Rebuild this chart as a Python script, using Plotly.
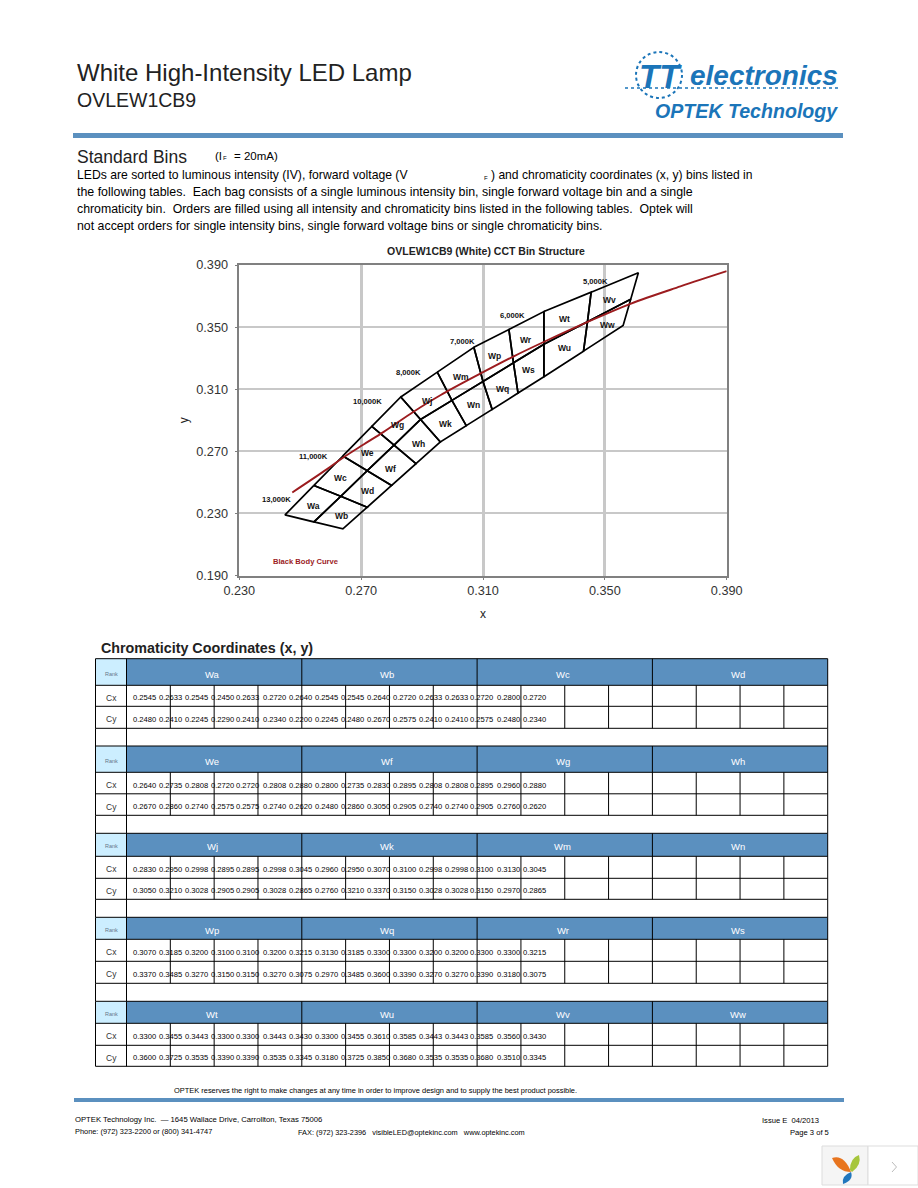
import plotly.graph_objects as go

W, H = 918, 1188
SANS = 'Liberation Sans'
BLUE = '#5b90bf'
LOGO = '#1b75b9'

# table rows, one list per section: four bins with four corners each
BIN_NAMES = [
	['Wa', 'Wb', 'Wc', 'Wd'],
	['We', 'Wf', 'Wg', 'Wh'],
	['Wj', 'Wk', 'Wm', 'Wn'],
	['Wp', 'Wq', 'Wr', 'Ws'],
	['Wt', 'Wu', 'Wv', 'Ww'],
]
CX_ROWS = [
	[0.2545, 0.2633, 0.2545, 0.2450, 0.2633, 0.2720, 0.2640, 0.2545, 0.2545, 0.2640, 0.2720, 0.2633, 0.2633, 0.2720, 0.2800, 0.2720],
	[0.2640, 0.2735, 0.2808, 0.2720, 0.2720, 0.2808, 0.2880, 0.2800, 0.2735, 0.2830, 0.2895, 0.2808, 0.2808, 0.2895, 0.2960, 0.2880],
	[0.2830, 0.2950, 0.2998, 0.2895, 0.2895, 0.2998, 0.3045, 0.2960, 0.2950, 0.3070, 0.3100, 0.2998, 0.2998, 0.3100, 0.3130, 0.3045],
	[0.3070, 0.3185, 0.3200, 0.3100, 0.3100, 0.3200, 0.3215, 0.3130, 0.3185, 0.3300, 0.3300, 0.3200, 0.3200, 0.3300, 0.3300, 0.3215],
	[0.3300, 0.3455, 0.3443, 0.3300, 0.3300, 0.3443, 0.3430, 0.3300, 0.3455, 0.3610, 0.3585, 0.3443, 0.3443, 0.3585, 0.3560, 0.3430],
]
CY_ROWS = [
	[0.2480, 0.2410, 0.2245, 0.2290, 0.2410, 0.2340, 0.2200, 0.2245, 0.2480, 0.2670, 0.2575, 0.2410, 0.2410, 0.2575, 0.2480, 0.2340],
	[0.2670, 0.2860, 0.2740, 0.2575, 0.2575, 0.2740, 0.2620, 0.2480, 0.2860, 0.3050, 0.2905, 0.2740, 0.2740, 0.2905, 0.2760, 0.2620],
	[0.3050, 0.3210, 0.3028, 0.2905, 0.2905, 0.3028, 0.2865, 0.2760, 0.3210, 0.3370, 0.3150, 0.3028, 0.3028, 0.3150, 0.2970, 0.2865],
	[0.3370, 0.3485, 0.3270, 0.3150, 0.3150, 0.3270, 0.3075, 0.2970, 0.3485, 0.3600, 0.3390, 0.3270, 0.3270, 0.3390, 0.3180, 0.3075],
	[0.3600, 0.3725, 0.3535, 0.3390, 0.3390, 0.3535, 0.3345, 0.3180, 0.3725, 0.3850, 0.3680, 0.3535, 0.3535, 0.3680, 0.3510, 0.3345],
]

BLACK_BODY_X = [0.2474, 0.2588, 0.2645, 0.2708, 0.2774, 0.2872, 0.2960, 0.3091, 0.3201, 0.3299, 0.3442, 0.3584, 0.3748, 0.3900]
BLACK_BODY_Y = [0.2435, 0.2585, 0.2665, 0.2744, 0.2825, 0.2955, 0.3061, 0.3200, 0.3312, 0.3404, 0.3532, 0.3650, 0.3762, 0.3860]

BIN_LABEL_X = [0.2542, 0.2636, 0.2631, 0.2720, 0.2720, 0.2797, 0.2818, 0.2889, 0.2917, 0.2976, 0.3027, 0.3069, 0.3139, 0.3163, 0.3242, 0.3249, 0.3366, 0.3369, 0.3514, 0.3508]
BIN_LABEL_Y = [0.2349, 0.2281, 0.2527, 0.2443, 0.2688, 0.2589, 0.2868, 0.2748, 0.3027, 0.2879, 0.3178, 0.2996, 0.3316, 0.3099, 0.3416, 0.3223, 0.3551, 0.3363, 0.3676, 0.3511]

CCT_LABELS = ['13,000K', '11,000K', '10,000K', '8,000K', '7,000K', '6,000K', '5,000K']
CCT_X = [0.2421, 0.2543, 0.2720, 0.2855, 0.3032, 0.3198, 0.3470]
CCT_Y = [0.2392, 0.2668, 0.3018, 0.3207, 0.3410, 0.3577, 0.3792]

TICKS = [0.230, 0.270, 0.310, 0.350, 0.390]
Y_TICKS = [0.190, 0.230, 0.270, 0.310, 0.350, 0.390]

# table row edges, page pixels
SECTION_TOPS = [658.7, 746, 833.3, 917.3, 1001.3]
SECTION_HEADS = [685.3, 772.3, 856.3, 939.3, 1023.3]
SECTION_CX = [706.3, 793.8, 878.3, 961.3, 1045.3]
SECTION_CY = [728.3, 815.3, 899.3, 983.3, 1066.3]
TABLE_LEFT, RANK_RIGHT, TABLE_RIGHT = 95.5, 126.5, 827.7


def px(x):
	return x / W


def py(y):
	return 1 - y / H


def text(t, x, y, size=12, color='#000000', anchor='left', bold=False, italic=False, family=SANS):
	if bold:
		t = '<b>' + t + '</b>'
	if italic:
		t = '<i>' + t + '</i>'
	return dict(
		text=t, x=px(x), y=py(y), xref='paper', yref='paper', xanchor=anchor, yanchor='middle',
		showarrow=False, borderpad=0, font=dict(family=family, size=size, color=color)
	)


def rect(x0, y0, x1, y1, fill=None, line=None, width=1, layer='above'):
	return dict(
		type='rect', xref='paper', yref='paper', x0=px(x0), y0=py(y0), x1=px(x1), y1=py(y1),
		fillcolor=fill, line=dict(color=line, width=width if line else 0), layer=layer
	)


def hline(x0, x1, y, color='#000000', width=1, dash=None):
	return dict(
		type='line', xref='paper', yref='paper', x0=px(x0), x1=px(x1), y0=py(y), y1=py(y),
		line=dict(color=color, width=width, dash=dash)
	)


def vline(x, y0, y1, color='#000000', width=1):
	return dict(
		type='line', xref='paper', yref='paper', x0=px(x), x1=px(x), y0=py(y0), y1=py(y1),
		line=dict(color=color, width=width)
	)


def blob(points, fill):
	# closed curved path from page pixels, used for the small corner logo
	x0, y0 = points[0]
	path = f'M {px(x0)} {py(y0)}'
	for cx, cy, ex, ey in points[1:]:
		path += f' Q {px(cx)} {py(cy)} {px(ex)} {py(ey)}'
	return dict(type='path', xref='paper', yref='paper', path=path + ' Z', fillcolor=fill, line=dict(width=0))


fig = go.Figure()

# one closed outline per bin, corners come straight from the table rows
for names, cx_row, cy_row in zip(BIN_NAMES, CX_ROWS, CY_ROWS):
	for i, name in enumerate(names):
		xs = cx_row[i * 4:i * 4 + 4]
		ys = cy_row[i * 4:i * 4 + 4]
		fig.add_trace(go.Scatter(
			x=xs + xs[:1], y=ys + ys[:1], mode='lines', name=name,
			line=dict(color='#000000', width=1.7), showlegend=False
		))

fig.add_trace(go.Scatter(
	x=BLACK_BODY_X, y=BLACK_BODY_Y, mode='lines', name='Black Body Curve',
	line=dict(color='#9c1c1f', width=1.9, shape='spline'), showlegend=False
))

annotations = []

for name, x, y in zip(sum(BIN_NAMES, []), BIN_LABEL_X, BIN_LABEL_Y):
	annotations.append(dict(
		text='<b>' + name + '</b>', x=x, y=y, xref='x', yref='y', showarrow=False,
		font=dict(family=SANS, size=8.5, color='#111111')
	))
for name, x, y in zip(CCT_LABELS, CCT_X, CCT_Y):
	annotations.append(dict(
		text='<b>' + name + '</b>', x=x, y=y, xref='x', yref='y', showarrow=False,
		font=dict(family=SANS, size=7.6, color='#111111')
	))
annotations.append(dict(
	text='<b>Black Body Curve</b>', x=0.2516, y=0.1991, xref='x', yref='y', showarrow=False,
	font=dict(family=SANS, size=7.6, color='#9c1c1f')
))

# page heading and paragraph
annotations += [
	text('White High-Intensity LED Lamp', 76, 73, size=24, color='#222222'),
	text('OVLEW1CB9', 76, 100, size=19.5, color='#222222'),
	text('Standard Bins', 76, 157, size=17.5, color='#222222'),
	text('(I', 214, 156, size=11.5),
	text('F', 222, 158, size=6),
	text('= 20mA)', 233, 156, size=11.5),
	text('LEDs are sorted to luminous intensity (IV), forward voltage (V', 76, 175, size=12.2),
	text('F', 483, 177.5, size=6),
	text(') and chromaticity coordinates (x, y) bins listed in', 490, 175, size=12.1),
	text('the following tables.  Each bag consists of a single luminous intensity bin, single forward voltage bin and a single', 76, 192, size=12.4),
	text('chromaticity bin.  Orders are filled using all intensity and chromaticity bins listed in the following tables.  Optek will', 76, 209, size=12.3),
	text('not accept orders for single intensity bins, single forward voltage bins or single chromaticity bins.', 76, 226, size=12.35),
	text('Chromaticity Coordinates (x, y)', 100, 648, size=14.3, bold=True, color='#222222'),
	text('OPTEK reserves the right to make changes at any time in order to improve design and to supply the best product possible.', 172.5, 1090, size=7.45),
	text('OPTEK Technology Inc.  — 1645 Wallace Drive, Carrollton, Texas 75006', 73.5, 1119, size=7.7),
	text('Phone: (972) 323-2200 or (800) 341-4747', 73.5, 1131, size=7.4),
	text('FAX: (972) 323-2396   visibleLED@optekinc.com   www.optekinc.com', 296.5, 1132, size=7.35),
	text('Issue E  04/2013', 761, 1120, size=7.6),
	text('Page 3 of 5', 788.5, 1132, size=7.6),
	text('electronics', 689, 75, size=28, color=LOGO, bold=True, italic=True),
	text('OPTEK Technology', 654, 111, size=19.6, color=LOGO, bold=True, italic=True),
	text('TT', 660, 76, size=33, color=LOGO, anchor='center', bold=True, italic=True),
]

shapes = [
	rect(73, 133, 843, 138, fill=BLUE),
	rect(74, 1098, 844, 1102, fill=BLUE),
	dict(
		type='circle', xref='paper', yref='paper', x0=px(636), x1=px(682), y0=py(98), y1=py(52),
		line=dict(color=LOGO, width=2, dash='dot')
	),
	hline(625, 838, 88, color=LOGO, width=1.5, dash='dot'),
	# viewer widget in the bottom corner
	rect(822, 1146, 868, 1185, fill='#f5f5f5', line='#dddddd'),
	rect(868, 1146, 918, 1185, fill='#ffffff', line='#dddddd'),
	blob([(832, 1158), (844, 1154, 851, 1172), (838, 1172, 832, 1158)], '#e8751f'),
	blob([(850, 1170), (850, 1158, 859, 1155), (862, 1165, 852, 1172)], '#a6c63c'),
	blob([(843, 1184), (841, 1176, 851, 1172), (854, 1180, 843, 1184)], '#2277bd'),
	dict(
		type='path', xref='paper', yref='paper',
		path=f'M {px(892)} {py(1162)} L {px(896.5)} {py(1167)} L {px(892)} {py(1172)}',
		line=dict(color='#bbbbbb', width=1)
	),
]

# the table: filled heads, black rules, then the text on top
col_w = (TABLE_RIGHT - RANK_RIGHT) / 16
for s, names in enumerate(BIN_NAMES):
	top, head, cx_b, cy_b = SECTION_TOPS[s], SECTION_HEADS[s], SECTION_CX[s], SECTION_CY[s]
	shapes.append(rect(TABLE_LEFT, top, RANK_RIGHT, head, fill='#cceeff'))
	shapes.append(rect(RANK_RIGHT, top, TABLE_RIGHT, head, fill=BLUE))
	for y in (top, head, cx_b, cy_b):
		shapes.append(hline(TABLE_LEFT, TABLE_RIGHT, y))
	for c in range(17):
		x = RANK_RIGHT + c * col_w
		if c % 4 == 0:
			shapes.append(vline(x, top, cy_b))
		else:
			shapes.append(vline(x, head, cy_b))
	shapes.append(vline(TABLE_LEFT, top, cy_b))
	if s < 4:
		blank_bottom = SECTION_TOPS[s + 1]
		shapes.append(vline(TABLE_LEFT, cy_b, blank_bottom))
		shapes.append(vline(RANK_RIGHT, cy_b, blank_bottom))
		shapes.append(vline(TABLE_RIGHT, cy_b, blank_bottom))

	# text sits a little under the middle of each row, same as the original page
	annotations.append(text('Rank', (TABLE_LEFT + RANK_RIGHT) / 2, (top + head) / 2 + 1.5, size=5.5, color='#667788', anchor='center'))
	annotations.append(text('Cx', (TABLE_LEFT + RANK_RIGHT) / 2, (head + cx_b) / 2 + 2, size=8.5, color='#333333', anchor='center'))
	annotations.append(text('Cy', (TABLE_LEFT + RANK_RIGHT) / 2, (cx_b + cy_b) / 2 + 2, size=8.5, color='#333333', anchor='center'))
	for i, name in enumerate(names):
		annotations.append(text(name, RANK_RIGHT + (i * 4 + 2) * col_w - 2, (top + head) / 2 + 2, size=9.5, color='#ffffff', anchor='center'))
	for i in range(16):
		# the values are wider than the cells and run across the rules
		annotations.append(text(f'{CX_ROWS[s][i]:.4f}', 131.5 + i * 26, (head + cx_b) / 2 + 2, size=7.6))
		annotations.append(text(f'{CY_ROWS[s][i]:.4f}', 131.5 + i * 26, (cx_b + cy_b) / 2 + 2, size=7.6))

fig.update_layout(
	width=W, height=H, margin=dict(l=0, r=0, t=0, b=0, autoexpand=False),
	paper_bgcolor='#ffffff', plot_bgcolor='#ffffff',
	font=dict(family=SANS),
	title=dict(
		text='<b>OVLEW1CB9 (White) CCT Bin Structure</b>', x=486 / W, y=py(251),
		xanchor='center', yanchor='middle', font=dict(family=SANS, size=10.5, color='#222222')
	),
	annotations=annotations, shapes=shapes
)
fig.update_xaxes(
	domain=[px(239.3), px(726.7)], range=[0.23, 0.39], tickvals=TICKS, tickformat='.3f', automargin=False,
	ticks='outside', ticklen=3, tickcolor='#808080', tickfont=dict(family=SANS, size=12.7, color='#333333'),
	showgrid=True, gridcolor='#c8c8c8', gridwidth=2.5, zeroline=False,
	showline=True, linecolor='#808080', linewidth=1.5, mirror=True,
	title=dict(text='x', standoff=12, font=dict(family=SANS, size=12, color='#222222'))
)
fig.update_yaxes(
	domain=[py(575.5), py(265)], range=[0.19, 0.39], tickvals=Y_TICKS, tickformat='.3f', automargin=False,
	ticks='outside', ticklen=3, tickcolor='#808080', tickfont=dict(family=SANS, size=12.7, color='#333333'),
	ticklabelstandoff=4,
	showgrid=True, gridcolor='#c8c8c8', gridwidth=2, zeroline=False,
	showline=True, linecolor='#808080', linewidth=1.5, mirror=True,
	title=dict(text='y', standoff=5, font=dict(family=SANS, size=12, color='#222222'))
)

fig.write_html('out.html', config={'displayModeBar': False}, post_script="document.body.style.margin='0'")
